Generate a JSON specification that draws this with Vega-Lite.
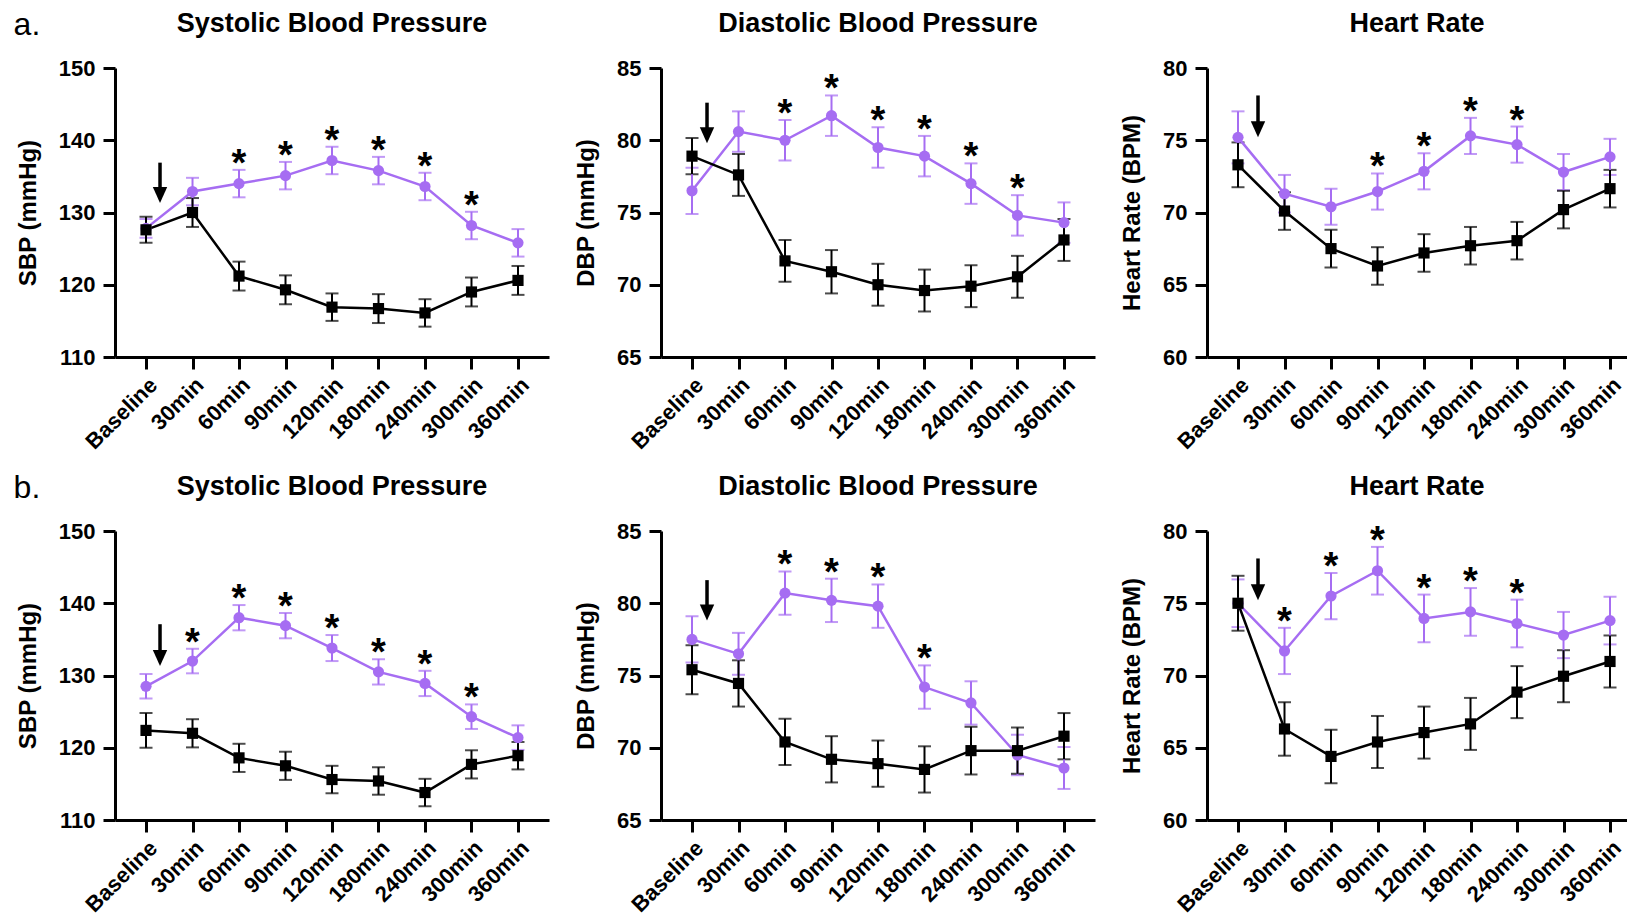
{
  "$schema": "https://vega.github.io/schema/vega-lite/v6.json",
  "background": "white",
  "padding": {"left": 13, "top": 9, "right": 0, "bottom": 0},
  "datasets": {
    "bp": [
      {"panel":"aSBP","time":"Baseline","group":"Treatment","mean":127.8,"lo":126.5,"hi":129.1,"sig":0},
      {"panel":"aSBP","time":"30min","group":"Treatment","mean":132.9,"lo":131.0,"hi":134.8,"sig":0},
      {"panel":"aSBP","time":"60min","group":"Treatment","mean":134.0,"lo":132.1,"hi":135.9,"sig":1},
      {"panel":"aSBP","time":"90min","group":"Treatment","mean":135.1,"lo":133.2,"hi":137.0,"sig":1},
      {"panel":"aSBP","time":"120min","group":"Treatment","mean":137.2,"lo":135.3,"hi":139.1,"sig":1},
      {"panel":"aSBP","time":"180min","group":"Treatment","mean":135.8,"lo":133.9,"hi":137.7,"sig":1},
      {"panel":"aSBP","time":"240min","group":"Treatment","mean":133.6,"lo":131.7,"hi":135.5,"sig":1},
      {"panel":"aSBP","time":"300min","group":"Treatment","mean":128.2,"lo":126.3,"hi":130.1,"sig":1},
      {"panel":"aSBP","time":"360min","group":"Treatment","mean":125.8,"lo":123.9,"hi":127.7,"sig":0},
      {"panel":"aSBP","time":"Baseline","group":"Control","mean":127.6,"lo":125.8,"hi":129.4,"sig":0},
      {"panel":"aSBP","time":"30min","group":"Control","mean":130.0,"lo":128.0,"hi":132.0,"sig":0},
      {"panel":"aSBP","time":"60min","group":"Control","mean":121.2,"lo":119.2,"hi":123.2,"sig":0},
      {"panel":"aSBP","time":"90min","group":"Control","mean":119.3,"lo":117.3,"hi":121.3,"sig":0},
      {"panel":"aSBP","time":"120min","group":"Control","mean":116.9,"lo":115.0,"hi":118.8,"sig":0},
      {"panel":"aSBP","time":"180min","group":"Control","mean":116.7,"lo":114.7,"hi":118.7,"sig":0},
      {"panel":"aSBP","time":"240min","group":"Control","mean":116.1,"lo":114.2,"hi":118.0,"sig":0},
      {"panel":"aSBP","time":"300min","group":"Control","mean":119.0,"lo":117.0,"hi":121.0,"sig":0},
      {"panel":"aSBP","time":"360min","group":"Control","mean":120.6,"lo":118.6,"hi":122.6,"sig":0},

      {"panel":"aDBP","time":"Baseline","group":"Treatment","mean":76.5,"lo":74.9,"hi":78.1,"sig":0},
      {"panel":"aDBP","time":"30min","group":"Treatment","mean":80.6,"lo":79.2,"hi":82.0,"sig":0},
      {"panel":"aDBP","time":"60min","group":"Treatment","mean":80.0,"lo":78.6,"hi":81.4,"sig":1},
      {"panel":"aDBP","time":"90min","group":"Treatment","mean":81.7,"lo":80.3,"hi":83.1,"sig":1},
      {"panel":"aDBP","time":"120min","group":"Treatment","mean":79.5,"lo":78.1,"hi":80.9,"sig":1},
      {"panel":"aDBP","time":"180min","group":"Treatment","mean":78.9,"lo":77.5,"hi":80.3,"sig":1},
      {"panel":"aDBP","time":"240min","group":"Treatment","mean":77.0,"lo":75.6,"hi":78.4,"sig":1},
      {"panel":"aDBP","time":"300min","group":"Treatment","mean":74.8,"lo":73.4,"hi":76.2,"sig":1},
      {"panel":"aDBP","time":"360min","group":"Treatment","mean":74.3,"lo":72.9,"hi":75.7,"sig":0},
      {"panel":"aDBP","time":"Baseline","group":"Control","mean":78.9,"lo":77.65,"hi":80.15,"sig":0},
      {"panel":"aDBP","time":"30min","group":"Control","mean":77.6,"lo":76.15,"hi":79.05,"sig":0},
      {"panel":"aDBP","time":"60min","group":"Control","mean":71.65,"lo":70.2,"hi":73.1,"sig":0},
      {"panel":"aDBP","time":"90min","group":"Control","mean":70.9,"lo":69.4,"hi":72.4,"sig":0},
      {"panel":"aDBP","time":"120min","group":"Control","mean":70.0,"lo":68.55,"hi":71.45,"sig":0},
      {"panel":"aDBP","time":"180min","group":"Control","mean":69.6,"lo":68.15,"hi":71.05,"sig":0},
      {"panel":"aDBP","time":"240min","group":"Control","mean":69.9,"lo":68.45,"hi":71.35,"sig":0},
      {"panel":"aDBP","time":"300min","group":"Control","mean":70.55,"lo":69.1,"hi":72.0,"sig":0},
      {"panel":"aDBP","time":"360min","group":"Control","mean":73.1,"lo":71.65,"hi":74.55,"sig":0},

      {"panel":"aHR","time":"Baseline","group":"Treatment","mean":75.2,"lo":73.4,"hi":77.0,"sig":0},
      {"panel":"aHR","time":"30min","group":"Treatment","mean":71.3,"lo":70.0,"hi":72.6,"sig":0},
      {"panel":"aHR","time":"60min","group":"Treatment","mean":70.4,"lo":69.15,"hi":71.65,"sig":0},
      {"panel":"aHR","time":"90min","group":"Treatment","mean":71.45,"lo":70.2,"hi":72.7,"sig":1},
      {"panel":"aHR","time":"120min","group":"Treatment","mean":72.85,"lo":71.6,"hi":74.1,"sig":1},
      {"panel":"aHR","time":"180min","group":"Treatment","mean":75.3,"lo":74.05,"hi":76.55,"sig":1},
      {"panel":"aHR","time":"240min","group":"Treatment","mean":74.7,"lo":73.45,"hi":75.95,"sig":1},
      {"panel":"aHR","time":"300min","group":"Treatment","mean":72.8,"lo":71.55,"hi":74.05,"sig":0},
      {"panel":"aHR","time":"360min","group":"Treatment","mean":73.85,"lo":72.6,"hi":75.1,"sig":0},
      {"panel":"aHR","time":"Baseline","group":"Control","mean":73.3,"lo":71.75,"hi":74.85,"sig":0},
      {"panel":"aHR","time":"30min","group":"Control","mean":70.1,"lo":68.8,"hi":71.4,"sig":0},
      {"panel":"aHR","time":"60min","group":"Control","mean":67.5,"lo":66.2,"hi":68.8,"sig":0},
      {"panel":"aHR","time":"90min","group":"Control","mean":66.3,"lo":65.0,"hi":67.6,"sig":0},
      {"panel":"aHR","time":"120min","group":"Control","mean":67.2,"lo":65.9,"hi":68.5,"sig":0},
      {"panel":"aHR","time":"180min","group":"Control","mean":67.7,"lo":66.4,"hi":69.0,"sig":0},
      {"panel":"aHR","time":"240min","group":"Control","mean":68.05,"lo":66.75,"hi":69.35,"sig":0},
      {"panel":"aHR","time":"300min","group":"Control","mean":70.2,"lo":68.9,"hi":71.5,"sig":0},
      {"panel":"aHR","time":"360min","group":"Control","mean":71.65,"lo":70.35,"hi":72.95,"sig":0},

      {"panel":"bSBP","time":"Baseline","group":"Treatment","mean":128.5,"lo":126.8,"hi":130.2,"sig":0},
      {"panel":"bSBP","time":"30min","group":"Treatment","mean":132.0,"lo":130.3,"hi":133.7,"sig":1},
      {"panel":"bSBP","time":"60min","group":"Treatment","mean":138.0,"lo":136.25,"hi":139.75,"sig":1},
      {"panel":"bSBP","time":"90min","group":"Treatment","mean":136.9,"lo":135.15,"hi":138.65,"sig":1},
      {"panel":"bSBP","time":"120min","group":"Treatment","mean":133.8,"lo":132.0,"hi":135.6,"sig":1},
      {"panel":"bSBP","time":"180min","group":"Treatment","mean":130.5,"lo":128.75,"hi":132.25,"sig":1},
      {"panel":"bSBP","time":"240min","group":"Treatment","mean":128.9,"lo":127.15,"hi":130.65,"sig":1},
      {"panel":"bSBP","time":"300min","group":"Treatment","mean":124.3,"lo":122.6,"hi":126.0,"sig":1},
      {"panel":"bSBP","time":"360min","group":"Treatment","mean":121.4,"lo":119.7,"hi":123.1,"sig":0},
      {"panel":"bSBP","time":"Baseline","group":"Control","mean":122.4,"lo":120.0,"hi":124.8,"sig":0},
      {"panel":"bSBP","time":"30min","group":"Control","mean":122.0,"lo":120.05,"hi":123.95,"sig":0},
      {"panel":"bSBP","time":"60min","group":"Control","mean":118.6,"lo":116.65,"hi":120.55,"sig":0},
      {"panel":"bSBP","time":"90min","group":"Control","mean":117.5,"lo":115.55,"hi":119.45,"sig":0},
      {"panel":"bSBP","time":"120min","group":"Control","mean":115.6,"lo":113.7,"hi":117.5,"sig":0},
      {"panel":"bSBP","time":"180min","group":"Control","mean":115.4,"lo":113.5,"hi":117.3,"sig":0},
      {"panel":"bSBP","time":"240min","group":"Control","mean":113.8,"lo":111.9,"hi":115.7,"sig":0},
      {"panel":"bSBP","time":"300min","group":"Control","mean":117.7,"lo":115.75,"hi":119.65,"sig":0},
      {"panel":"bSBP","time":"360min","group":"Control","mean":118.9,"lo":117.0,"hi":120.8,"sig":0},

      {"panel":"bDBP","time":"Baseline","group":"Treatment","mean":77.5,"lo":75.9,"hi":79.1,"sig":0},
      {"panel":"bDBP","time":"30min","group":"Treatment","mean":76.5,"lo":75.05,"hi":77.95,"sig":0},
      {"panel":"bDBP","time":"60min","group":"Treatment","mean":80.7,"lo":79.2,"hi":82.2,"sig":1},
      {"panel":"bDBP","time":"90min","group":"Treatment","mean":80.2,"lo":78.7,"hi":81.7,"sig":1},
      {"panel":"bDBP","time":"120min","group":"Treatment","mean":79.8,"lo":78.3,"hi":81.3,"sig":1},
      {"panel":"bDBP","time":"180min","group":"Treatment","mean":74.2,"lo":72.7,"hi":75.7,"sig":1},
      {"panel":"bDBP","time":"240min","group":"Treatment","mean":73.1,"lo":71.6,"hi":74.6,"sig":0},
      {"panel":"bDBP","time":"300min","group":"Treatment","mean":69.5,"lo":68.1,"hi":70.9,"sig":0},
      {"panel":"bDBP","time":"360min","group":"Treatment","mean":68.6,"lo":67.15,"hi":70.05,"sig":0},
      {"panel":"bDBP","time":"Baseline","group":"Control","mean":75.4,"lo":73.7,"hi":77.1,"sig":0},
      {"panel":"bDBP","time":"30min","group":"Control","mean":74.45,"lo":72.85,"hi":76.05,"sig":0},
      {"panel":"bDBP","time":"60min","group":"Control","mean":70.4,"lo":68.8,"hi":72.0,"sig":0},
      {"panel":"bDBP","time":"90min","group":"Control","mean":69.2,"lo":67.6,"hi":70.8,"sig":0},
      {"panel":"bDBP","time":"120min","group":"Control","mean":68.9,"lo":67.3,"hi":70.5,"sig":0},
      {"panel":"bDBP","time":"180min","group":"Control","mean":68.5,"lo":66.9,"hi":70.1,"sig":0},
      {"panel":"bDBP","time":"240min","group":"Control","mean":69.8,"lo":68.15,"hi":71.45,"sig":0},
      {"panel":"bDBP","time":"300min","group":"Control","mean":69.8,"lo":68.2,"hi":71.4,"sig":0},
      {"panel":"bDBP","time":"360min","group":"Control","mean":70.8,"lo":69.2,"hi":72.4,"sig":0},

      {"panel":"bHR","time":"Baseline","group":"Treatment","mean":75.0,"lo":73.35,"hi":76.65,"sig":0},
      {"panel":"bHR","time":"30min","group":"Treatment","mean":71.7,"lo":70.1,"hi":73.3,"sig":1},
      {"panel":"bHR","time":"60min","group":"Treatment","mean":75.5,"lo":73.9,"hi":77.1,"sig":1},
      {"panel":"bHR","time":"90min","group":"Treatment","mean":77.25,"lo":75.6,"hi":78.9,"sig":1},
      {"panel":"bHR","time":"120min","group":"Treatment","mean":73.95,"lo":72.3,"hi":75.6,"sig":1},
      {"panel":"bHR","time":"180min","group":"Treatment","mean":74.4,"lo":72.75,"hi":76.05,"sig":1},
      {"panel":"bHR","time":"240min","group":"Treatment","mean":73.6,"lo":71.95,"hi":75.25,"sig":1},
      {"panel":"bHR","time":"300min","group":"Treatment","mean":72.8,"lo":71.2,"hi":74.4,"sig":0},
      {"panel":"bHR","time":"360min","group":"Treatment","mean":73.8,"lo":72.15,"hi":75.45,"sig":0},
      {"panel":"bHR","time":"Baseline","group":"Control","mean":75.0,"lo":73.1,"hi":76.9,"sig":0},
      {"panel":"bHR","time":"30min","group":"Control","mean":66.3,"lo":64.45,"hi":68.15,"sig":0},
      {"panel":"bHR","time":"60min","group":"Control","mean":64.4,"lo":62.55,"hi":66.25,"sig":0},
      {"panel":"bHR","time":"90min","group":"Control","mean":65.4,"lo":63.6,"hi":67.2,"sig":0},
      {"panel":"bHR","time":"120min","group":"Control","mean":66.05,"lo":64.25,"hi":67.85,"sig":0},
      {"panel":"bHR","time":"180min","group":"Control","mean":66.65,"lo":64.85,"hi":68.45,"sig":0},
      {"panel":"bHR","time":"240min","group":"Control","mean":68.85,"lo":67.05,"hi":70.65,"sig":0},
      {"panel":"bHR","time":"300min","group":"Control","mean":69.95,"lo":68.15,"hi":71.75,"sig":0},
      {"panel":"bHR","time":"360min","group":"Control","mean":70.97,"lo":69.17,"hi":72.77,"sig":0}
    ],
    "arrows": [
      {"panel":"aSBP","time":"Baseline","top":136.9,"tip":131.3},
      {"panel":"aDBP","time":"Baseline","top":82.6,"tip":79.8},
      {"panel":"aHR","time":"Baseline","top":78.1,"tip":75.2},
      {"panel":"bSBP","time":"Baseline","top":137.1,"tip":131.3},
      {"panel":"bDBP","time":"Baseline","top":81.6,"tip":78.8},
      {"panel":"bHR","time":"Baseline","top":78.1,"tip":75.2}
    ]
  },
  "spacing": 19,
  "vconcat": [
    {
      "title": {"text": "a.", "orient": "left", "anchor": "end", "frame": "bounds", "angle": 0, "align": "left", "baseline": "top", "offset": -24, "fontSize": 32, "fontWeight": "normal", "color": "black"},
      "spacing": 25,
      "hconcat": [
        {
          "width": 434, "height": 289,
          "title": "Systolic Blood Pressure",
          "layer": [
            {"data": {"name": "bp"}, "transform": [{"filter": "datum.panel === 'aSBP'"}],
             "mark": {"type": "errorbar", "ticks": true, "size": 13, "thickness": 2},
             "encoding": {
               "x": {"field": "time", "type": "nominal", "title": null, "scale": {"type": "point", "domain": ["Baseline","30min","60min","90min","120min","180min","240min","300min","360min"], "padding": 0.667}},
               "y": {"field": "lo", "type": "quantitative", "title": "SBP (mmHg)", "scale": {"domain": [110, 150], "nice": false, "zero": false}},
               "y2": {"field": "hi"},
               "color": {"field": "group", "type": "nominal", "scale": {"domain": ["Treatment","Control"], "range": ["#A66DF2","#000000"]}, "legend": null}}},
            {"data": {"name": "bp"}, "transform": [{"filter": "datum.panel === 'aSBP'"}],
             "mark": {"type": "line", "strokeWidth": 2.5},
             "encoding": {
               "x": {"field": "time", "type": "nominal", "title": null, "scale": {"type": "point", "domain": ["Baseline","30min","60min","90min","120min","180min","240min","300min","360min"], "padding": 0.667}},
               "y": {"field": "mean", "type": "quantitative", "title": "SBP (mmHg)", "scale": {"domain": [110, 150], "nice": false, "zero": false}},
               "color": {"field": "group", "type": "nominal", "scale": {"domain": ["Treatment","Control"], "range": ["#A66DF2","#000000"]}, "legend": null}}},
            {"data": {"name": "bp"}, "transform": [{"filter": "datum.panel === 'aSBP'"}],
             "mark": {"type": "point", "filled": true, "opacity": 1, "size": 125},
             "encoding": {
               "x": {"field": "time", "type": "nominal", "title": null, "scale": {"type": "point", "domain": ["Baseline","30min","60min","90min","120min","180min","240min","300min","360min"], "padding": 0.667}},
               "y": {"field": "mean", "type": "quantitative", "title": "SBP (mmHg)", "scale": {"domain": [110, 150], "nice": false, "zero": false}},
               "color": {"field": "group", "type": "nominal", "scale": {"domain": ["Treatment","Control"], "range": ["#A66DF2","#000000"]}, "legend": null},
               "shape": {"field": "group", "type": "nominal", "scale": {"domain": ["Treatment","Control"], "range": ["circle","square"]}, "legend": null}}},
            {"data": {"name": "bp"}, "transform": [{"filter": "datum.panel === 'aSBP' && datum.sig === 1"}],
             "mark": {"type": "text", "text": "*", "fontSize": 38, "fontWeight": "bold", "baseline": "alphabetic", "dy": 6, "color": "black"},
             "encoding": {
               "x": {"field": "time", "type": "nominal", "title": null, "scale": {"type": "point", "domain": ["Baseline","30min","60min","90min","120min","180min","240min","300min","360min"], "padding": 0.667}},
               "y": {"field": "hi", "type": "quantitative", "title": "SBP (mmHg)", "scale": {"domain": [110, 150], "nice": false, "zero": false}}}},
            {"data": {"name": "arrows"}, "transform": [{"filter": "datum.panel === 'aSBP'"}],
             "mark": {"type": "rule", "strokeWidth": 3.5, "color": "black", "xOffset": 14, "y2Offset": -10},
             "encoding": {
               "x": {"field": "time", "type": "nominal", "title": null, "scale": {"type": "point", "domain": ["Baseline","30min","60min","90min","120min","180min","240min","300min","360min"], "padding": 0.667}},
               "y": {"field": "top", "type": "quantitative", "title": "SBP (mmHg)", "scale": {"domain": [110, 150], "nice": false, "zero": false}},
               "y2": {"field": "tip"}}},
            {"data": {"name": "arrows"}, "transform": [{"filter": "datum.panel === 'aSBP'"}],
             "mark": {"type": "point", "shape": "M-0.9,-1L0.9,-1L0,1Z", "filled": true, "opacity": 1, "size": 256, "color": "black", "xOffset": 14, "yOffset": -8},
             "encoding": {
               "x": {"field": "time", "type": "nominal", "title": null, "scale": {"type": "point", "domain": ["Baseline","30min","60min","90min","120min","180min","240min","300min","360min"], "padding": 0.667}},
               "y": {"field": "tip", "type": "quantitative", "title": "SBP (mmHg)", "scale": {"domain": [110, 150], "nice": false, "zero": false}}}}
          ]
        },
        {
          "width": 434, "height": 289,
          "title": "Diastolic Blood Pressure",
          "layer": [
            {"data": {"name": "bp"}, "transform": [{"filter": "datum.panel === 'aDBP'"}],
             "mark": {"type": "errorbar", "ticks": true, "size": 13, "thickness": 2},
             "encoding": {
               "x": {"field": "time", "type": "nominal", "title": null, "scale": {"type": "point", "domain": ["Baseline","30min","60min","90min","120min","180min","240min","300min","360min"], "padding": 0.667}},
               "y": {"field": "lo", "type": "quantitative", "title": "DBP (mmHg)", "scale": {"domain": [65, 85], "nice": false, "zero": false}},
               "y2": {"field": "hi"},
               "color": {"field": "group", "type": "nominal", "scale": {"domain": ["Treatment","Control"], "range": ["#A66DF2","#000000"]}, "legend": null}}},
            {"data": {"name": "bp"}, "transform": [{"filter": "datum.panel === 'aDBP'"}],
             "mark": {"type": "line", "strokeWidth": 2.5},
             "encoding": {
               "x": {"field": "time", "type": "nominal", "title": null, "scale": {"type": "point", "domain": ["Baseline","30min","60min","90min","120min","180min","240min","300min","360min"], "padding": 0.667}},
               "y": {"field": "mean", "type": "quantitative", "title": "DBP (mmHg)", "scale": {"domain": [65, 85], "nice": false, "zero": false}},
               "color": {"field": "group", "type": "nominal", "scale": {"domain": ["Treatment","Control"], "range": ["#A66DF2","#000000"]}, "legend": null}}},
            {"data": {"name": "bp"}, "transform": [{"filter": "datum.panel === 'aDBP'"}],
             "mark": {"type": "point", "filled": true, "opacity": 1, "size": 125},
             "encoding": {
               "x": {"field": "time", "type": "nominal", "title": null, "scale": {"type": "point", "domain": ["Baseline","30min","60min","90min","120min","180min","240min","300min","360min"], "padding": 0.667}},
               "y": {"field": "mean", "type": "quantitative", "title": "DBP (mmHg)", "scale": {"domain": [65, 85], "nice": false, "zero": false}},
               "color": {"field": "group", "type": "nominal", "scale": {"domain": ["Treatment","Control"], "range": ["#A66DF2","#000000"]}, "legend": null},
               "shape": {"field": "group", "type": "nominal", "scale": {"domain": ["Treatment","Control"], "range": ["circle","square"]}, "legend": null}}},
            {"data": {"name": "bp"}, "transform": [{"filter": "datum.panel === 'aDBP' && datum.sig === 1"}],
             "mark": {"type": "text", "text": "*", "fontSize": 38, "fontWeight": "bold", "baseline": "alphabetic", "dy": 6, "color": "black"},
             "encoding": {
               "x": {"field": "time", "type": "nominal", "title": null, "scale": {"type": "point", "domain": ["Baseline","30min","60min","90min","120min","180min","240min","300min","360min"], "padding": 0.667}},
               "y": {"field": "hi", "type": "quantitative", "title": "DBP (mmHg)", "scale": {"domain": [65, 85], "nice": false, "zero": false}}}},
            {"data": {"name": "arrows"}, "transform": [{"filter": "datum.panel === 'aDBP'"}],
             "mark": {"type": "rule", "strokeWidth": 3.5, "color": "black", "xOffset": 15, "y2Offset": -10},
             "encoding": {
               "x": {"field": "time", "type": "nominal", "title": null, "scale": {"type": "point", "domain": ["Baseline","30min","60min","90min","120min","180min","240min","300min","360min"], "padding": 0.667}},
               "y": {"field": "top", "type": "quantitative", "title": "DBP (mmHg)", "scale": {"domain": [65, 85], "nice": false, "zero": false}},
               "y2": {"field": "tip"}}},
            {"data": {"name": "arrows"}, "transform": [{"filter": "datum.panel === 'aDBP'"}],
             "mark": {"type": "point", "shape": "M-0.9,-1L0.9,-1L0,1Z", "filled": true, "opacity": 1, "size": 256, "color": "black", "xOffset": 15, "yOffset": -8},
             "encoding": {
               "x": {"field": "time", "type": "nominal", "title": null, "scale": {"type": "point", "domain": ["Baseline","30min","60min","90min","120min","180min","240min","300min","360min"], "padding": 0.667}},
               "y": {"field": "tip", "type": "quantitative", "title": "DBP (mmHg)", "scale": {"domain": [65, 85], "nice": false, "zero": false}}}}
          ]
        },
        {
          "width": 420, "height": 289,
          "title": "Heart Rate",
          "layer": [
            {"data": {"name": "bp"}, "transform": [{"filter": "datum.panel === 'aHR'"}],
             "mark": {"type": "errorbar", "ticks": true, "size": 13, "thickness": 2},
             "encoding": {
               "x": {"field": "time", "type": "nominal", "title": null, "scale": {"type": "point", "domain": ["Baseline","30min","60min","90min","120min","180min","240min","300min","360min"], "padding": 0.516, "align": 0.646}},
               "y": {"field": "lo", "type": "quantitative", "title": "Heart Rate (BPM)", "scale": {"domain": [60, 80], "nice": false, "zero": false}},
               "y2": {"field": "hi"},
               "color": {"field": "group", "type": "nominal", "scale": {"domain": ["Treatment","Control"], "range": ["#A66DF2","#000000"]}, "legend": null}}},
            {"data": {"name": "bp"}, "transform": [{"filter": "datum.panel === 'aHR'"}],
             "mark": {"type": "line", "strokeWidth": 2.5},
             "encoding": {
               "x": {"field": "time", "type": "nominal", "title": null, "scale": {"type": "point", "domain": ["Baseline","30min","60min","90min","120min","180min","240min","300min","360min"], "padding": 0.516, "align": 0.646}},
               "y": {"field": "mean", "type": "quantitative", "title": "Heart Rate (BPM)", "scale": {"domain": [60, 80], "nice": false, "zero": false}},
               "color": {"field": "group", "type": "nominal", "scale": {"domain": ["Treatment","Control"], "range": ["#A66DF2","#000000"]}, "legend": null}}},
            {"data": {"name": "bp"}, "transform": [{"filter": "datum.panel === 'aHR'"}],
             "mark": {"type": "point", "filled": true, "opacity": 1, "size": 125},
             "encoding": {
               "x": {"field": "time", "type": "nominal", "title": null, "scale": {"type": "point", "domain": ["Baseline","30min","60min","90min","120min","180min","240min","300min","360min"], "padding": 0.516, "align": 0.646}},
               "y": {"field": "mean", "type": "quantitative", "title": "Heart Rate (BPM)", "scale": {"domain": [60, 80], "nice": false, "zero": false}},
               "color": {"field": "group", "type": "nominal", "scale": {"domain": ["Treatment","Control"], "range": ["#A66DF2","#000000"]}, "legend": null},
               "shape": {"field": "group", "type": "nominal", "scale": {"domain": ["Treatment","Control"], "range": ["circle","square"]}, "legend": null}}},
            {"data": {"name": "bp"}, "transform": [{"filter": "datum.panel === 'aHR' && datum.sig === 1"}],
             "mark": {"type": "text", "text": "*", "fontSize": 38, "fontWeight": "bold", "baseline": "alphabetic", "dy": 6, "color": "black"},
             "encoding": {
               "x": {"field": "time", "type": "nominal", "title": null, "scale": {"type": "point", "domain": ["Baseline","30min","60min","90min","120min","180min","240min","300min","360min"], "padding": 0.516, "align": 0.646}},
               "y": {"field": "hi", "type": "quantitative", "title": "Heart Rate (BPM)", "scale": {"domain": [60, 80], "nice": false, "zero": false}}}},
            {"data": {"name": "arrows"}, "transform": [{"filter": "datum.panel === 'aHR'"}],
             "mark": {"type": "rule", "strokeWidth": 3.5, "color": "black", "xOffset": 20, "y2Offset": -10},
             "encoding": {
               "x": {"field": "time", "type": "nominal", "title": null, "scale": {"type": "point", "domain": ["Baseline","30min","60min","90min","120min","180min","240min","300min","360min"], "padding": 0.516, "align": 0.646}},
               "y": {"field": "top", "type": "quantitative", "title": "Heart Rate (BPM)", "scale": {"domain": [60, 80], "nice": false, "zero": false}},
               "y2": {"field": "tip"}}},
            {"data": {"name": "arrows"}, "transform": [{"filter": "datum.panel === 'aHR'"}],
             "mark": {"type": "point", "shape": "M-0.9,-1L0.9,-1L0,1Z", "filled": true, "opacity": 1, "size": 256, "color": "black", "xOffset": 20, "yOffset": -8},
             "encoding": {
               "x": {"field": "time", "type": "nominal", "title": null, "scale": {"type": "point", "domain": ["Baseline","30min","60min","90min","120min","180min","240min","300min","360min"], "padding": 0.516, "align": 0.646}},
               "y": {"field": "tip", "type": "quantitative", "title": "Heart Rate (BPM)", "scale": {"domain": [60, 80], "nice": false, "zero": false}}}}
          ]
        }
      ]
    },
    {
      "title": {"text": "b.", "orient": "left", "anchor": "end", "frame": "bounds", "angle": 0, "align": "left", "baseline": "top", "offset": -24, "fontSize": 32, "fontWeight": "normal", "color": "black"},
      "spacing": 25,
      "hconcat": [
        {
          "width": 434, "height": 289,
          "title": "Systolic Blood Pressure",
          "layer": [
            {"data": {"name": "bp"}, "transform": [{"filter": "datum.panel === 'bSBP'"}],
             "mark": {"type": "errorbar", "ticks": true, "size": 13, "thickness": 2},
             "encoding": {
               "x": {"field": "time", "type": "nominal", "title": null, "scale": {"type": "point", "domain": ["Baseline","30min","60min","90min","120min","180min","240min","300min","360min"], "padding": 0.667}},
               "y": {"field": "lo", "type": "quantitative", "title": "SBP (mmHg)", "scale": {"domain": [110, 150], "nice": false, "zero": false}},
               "y2": {"field": "hi"},
               "color": {"field": "group", "type": "nominal", "scale": {"domain": ["Treatment","Control"], "range": ["#A66DF2","#000000"]}, "legend": null}}},
            {"data": {"name": "bp"}, "transform": [{"filter": "datum.panel === 'bSBP'"}],
             "mark": {"type": "line", "strokeWidth": 2.5},
             "encoding": {
               "x": {"field": "time", "type": "nominal", "title": null, "scale": {"type": "point", "domain": ["Baseline","30min","60min","90min","120min","180min","240min","300min","360min"], "padding": 0.667}},
               "y": {"field": "mean", "type": "quantitative", "title": "SBP (mmHg)", "scale": {"domain": [110, 150], "nice": false, "zero": false}},
               "color": {"field": "group", "type": "nominal", "scale": {"domain": ["Treatment","Control"], "range": ["#A66DF2","#000000"]}, "legend": null}}},
            {"data": {"name": "bp"}, "transform": [{"filter": "datum.panel === 'bSBP'"}],
             "mark": {"type": "point", "filled": true, "opacity": 1, "size": 125},
             "encoding": {
               "x": {"field": "time", "type": "nominal", "title": null, "scale": {"type": "point", "domain": ["Baseline","30min","60min","90min","120min","180min","240min","300min","360min"], "padding": 0.667}},
               "y": {"field": "mean", "type": "quantitative", "title": "SBP (mmHg)", "scale": {"domain": [110, 150], "nice": false, "zero": false}},
               "color": {"field": "group", "type": "nominal", "scale": {"domain": ["Treatment","Control"], "range": ["#A66DF2","#000000"]}, "legend": null},
               "shape": {"field": "group", "type": "nominal", "scale": {"domain": ["Treatment","Control"], "range": ["circle","square"]}, "legend": null}}},
            {"data": {"name": "bp"}, "transform": [{"filter": "datum.panel === 'bSBP' && datum.sig === 1"}],
             "mark": {"type": "text", "text": "*", "fontSize": 38, "fontWeight": "bold", "baseline": "alphabetic", "dy": 6, "color": "black"},
             "encoding": {
               "x": {"field": "time", "type": "nominal", "title": null, "scale": {"type": "point", "domain": ["Baseline","30min","60min","90min","120min","180min","240min","300min","360min"], "padding": 0.667}},
               "y": {"field": "hi", "type": "quantitative", "title": "SBP (mmHg)", "scale": {"domain": [110, 150], "nice": false, "zero": false}}}},
            {"data": {"name": "arrows"}, "transform": [{"filter": "datum.panel === 'bSBP'"}],
             "mark": {"type": "rule", "strokeWidth": 3.5, "color": "black", "xOffset": 14, "y2Offset": -10},
             "encoding": {
               "x": {"field": "time", "type": "nominal", "title": null, "scale": {"type": "point", "domain": ["Baseline","30min","60min","90min","120min","180min","240min","300min","360min"], "padding": 0.667}},
               "y": {"field": "top", "type": "quantitative", "title": "SBP (mmHg)", "scale": {"domain": [110, 150], "nice": false, "zero": false}},
               "y2": {"field": "tip"}}},
            {"data": {"name": "arrows"}, "transform": [{"filter": "datum.panel === 'bSBP'"}],
             "mark": {"type": "point", "shape": "M-0.9,-1L0.9,-1L0,1Z", "filled": true, "opacity": 1, "size": 256, "color": "black", "xOffset": 14, "yOffset": -8},
             "encoding": {
               "x": {"field": "time", "type": "nominal", "title": null, "scale": {"type": "point", "domain": ["Baseline","30min","60min","90min","120min","180min","240min","300min","360min"], "padding": 0.667}},
               "y": {"field": "tip", "type": "quantitative", "title": "SBP (mmHg)", "scale": {"domain": [110, 150], "nice": false, "zero": false}}}}
          ]
        },
        {
          "width": 434, "height": 289,
          "title": "Diastolic Blood Pressure",
          "layer": [
            {"data": {"name": "bp"}, "transform": [{"filter": "datum.panel === 'bDBP'"}],
             "mark": {"type": "errorbar", "ticks": true, "size": 13, "thickness": 2},
             "encoding": {
               "x": {"field": "time", "type": "nominal", "title": null, "scale": {"type": "point", "domain": ["Baseline","30min","60min","90min","120min","180min","240min","300min","360min"], "padding": 0.667}},
               "y": {"field": "lo", "type": "quantitative", "title": "DBP (mmHg)", "scale": {"domain": [65, 85], "nice": false, "zero": false}},
               "y2": {"field": "hi"},
               "color": {"field": "group", "type": "nominal", "scale": {"domain": ["Treatment","Control"], "range": ["#A66DF2","#000000"]}, "legend": null}}},
            {"data": {"name": "bp"}, "transform": [{"filter": "datum.panel === 'bDBP'"}],
             "mark": {"type": "line", "strokeWidth": 2.5},
             "encoding": {
               "x": {"field": "time", "type": "nominal", "title": null, "scale": {"type": "point", "domain": ["Baseline","30min","60min","90min","120min","180min","240min","300min","360min"], "padding": 0.667}},
               "y": {"field": "mean", "type": "quantitative", "title": "DBP (mmHg)", "scale": {"domain": [65, 85], "nice": false, "zero": false}},
               "color": {"field": "group", "type": "nominal", "scale": {"domain": ["Treatment","Control"], "range": ["#A66DF2","#000000"]}, "legend": null}}},
            {"data": {"name": "bp"}, "transform": [{"filter": "datum.panel === 'bDBP'"}],
             "mark": {"type": "point", "filled": true, "opacity": 1, "size": 125},
             "encoding": {
               "x": {"field": "time", "type": "nominal", "title": null, "scale": {"type": "point", "domain": ["Baseline","30min","60min","90min","120min","180min","240min","300min","360min"], "padding": 0.667}},
               "y": {"field": "mean", "type": "quantitative", "title": "DBP (mmHg)", "scale": {"domain": [65, 85], "nice": false, "zero": false}},
               "color": {"field": "group", "type": "nominal", "scale": {"domain": ["Treatment","Control"], "range": ["#A66DF2","#000000"]}, "legend": null},
               "shape": {"field": "group", "type": "nominal", "scale": {"domain": ["Treatment","Control"], "range": ["circle","square"]}, "legend": null}}},
            {"data": {"name": "bp"}, "transform": [{"filter": "datum.panel === 'bDBP' && datum.sig === 1"}],
             "mark": {"type": "text", "text": "*", "fontSize": 38, "fontWeight": "bold", "baseline": "alphabetic", "dy": 6, "color": "black"},
             "encoding": {
               "x": {"field": "time", "type": "nominal", "title": null, "scale": {"type": "point", "domain": ["Baseline","30min","60min","90min","120min","180min","240min","300min","360min"], "padding": 0.667}},
               "y": {"field": "hi", "type": "quantitative", "title": "DBP (mmHg)", "scale": {"domain": [65, 85], "nice": false, "zero": false}}}},
            {"data": {"name": "arrows"}, "transform": [{"filter": "datum.panel === 'bDBP'"}],
             "mark": {"type": "rule", "strokeWidth": 3.5, "color": "black", "xOffset": 15, "y2Offset": -10},
             "encoding": {
               "x": {"field": "time", "type": "nominal", "title": null, "scale": {"type": "point", "domain": ["Baseline","30min","60min","90min","120min","180min","240min","300min","360min"], "padding": 0.667}},
               "y": {"field": "top", "type": "quantitative", "title": "DBP (mmHg)", "scale": {"domain": [65, 85], "nice": false, "zero": false}},
               "y2": {"field": "tip"}}},
            {"data": {"name": "arrows"}, "transform": [{"filter": "datum.panel === 'bDBP'"}],
             "mark": {"type": "point", "shape": "M-0.9,-1L0.9,-1L0,1Z", "filled": true, "opacity": 1, "size": 256, "color": "black", "xOffset": 15, "yOffset": -8},
             "encoding": {
               "x": {"field": "time", "type": "nominal", "title": null, "scale": {"type": "point", "domain": ["Baseline","30min","60min","90min","120min","180min","240min","300min","360min"], "padding": 0.667}},
               "y": {"field": "tip", "type": "quantitative", "title": "DBP (mmHg)", "scale": {"domain": [65, 85], "nice": false, "zero": false}}}}
          ]
        },
        {
          "width": 420, "height": 289,
          "title": "Heart Rate",
          "layer": [
            {"data": {"name": "bp"}, "transform": [{"filter": "datum.panel === 'bHR'"}],
             "mark": {"type": "errorbar", "ticks": true, "size": 13, "thickness": 2},
             "encoding": {
               "x": {"field": "time", "type": "nominal", "title": null, "scale": {"type": "point", "domain": ["Baseline","30min","60min","90min","120min","180min","240min","300min","360min"], "padding": 0.516, "align": 0.646}},
               "y": {"field": "lo", "type": "quantitative", "title": "Heart Rate (BPM)", "scale": {"domain": [60, 80], "nice": false, "zero": false}},
               "y2": {"field": "hi"},
               "color": {"field": "group", "type": "nominal", "scale": {"domain": ["Treatment","Control"], "range": ["#A66DF2","#000000"]}, "legend": null}}},
            {"data": {"name": "bp"}, "transform": [{"filter": "datum.panel === 'bHR'"}],
             "mark": {"type": "line", "strokeWidth": 2.5},
             "encoding": {
               "x": {"field": "time", "type": "nominal", "title": null, "scale": {"type": "point", "domain": ["Baseline","30min","60min","90min","120min","180min","240min","300min","360min"], "padding": 0.516, "align": 0.646}},
               "y": {"field": "mean", "type": "quantitative", "title": "Heart Rate (BPM)", "scale": {"domain": [60, 80], "nice": false, "zero": false}},
               "color": {"field": "group", "type": "nominal", "scale": {"domain": ["Treatment","Control"], "range": ["#A66DF2","#000000"]}, "legend": null}}},
            {"data": {"name": "bp"}, "transform": [{"filter": "datum.panel === 'bHR'"}],
             "mark": {"type": "point", "filled": true, "opacity": 1, "size": 125},
             "encoding": {
               "x": {"field": "time", "type": "nominal", "title": null, "scale": {"type": "point", "domain": ["Baseline","30min","60min","90min","120min","180min","240min","300min","360min"], "padding": 0.516, "align": 0.646}},
               "y": {"field": "mean", "type": "quantitative", "title": "Heart Rate (BPM)", "scale": {"domain": [60, 80], "nice": false, "zero": false}},
               "color": {"field": "group", "type": "nominal", "scale": {"domain": ["Treatment","Control"], "range": ["#A66DF2","#000000"]}, "legend": null},
               "shape": {"field": "group", "type": "nominal", "scale": {"domain": ["Treatment","Control"], "range": ["circle","square"]}, "legend": null}}},
            {"data": {"name": "bp"}, "transform": [{"filter": "datum.panel === 'bHR' && datum.sig === 1"}],
             "mark": {"type": "text", "text": "*", "fontSize": 38, "fontWeight": "bold", "baseline": "alphabetic", "dy": 6, "color": "black"},
             "encoding": {
               "x": {"field": "time", "type": "nominal", "title": null, "scale": {"type": "point", "domain": ["Baseline","30min","60min","90min","120min","180min","240min","300min","360min"], "padding": 0.516, "align": 0.646}},
               "y": {"field": "hi", "type": "quantitative", "title": "Heart Rate (BPM)", "scale": {"domain": [60, 80], "nice": false, "zero": false}}}},
            {"data": {"name": "arrows"}, "transform": [{"filter": "datum.panel === 'bHR'"}],
             "mark": {"type": "rule", "strokeWidth": 3.5, "color": "black", "xOffset": 20, "y2Offset": -10},
             "encoding": {
               "x": {"field": "time", "type": "nominal", "title": null, "scale": {"type": "point", "domain": ["Baseline","30min","60min","90min","120min","180min","240min","300min","360min"], "padding": 0.516, "align": 0.646}},
               "y": {"field": "top", "type": "quantitative", "title": "Heart Rate (BPM)", "scale": {"domain": [60, 80], "nice": false, "zero": false}},
               "y2": {"field": "tip"}}},
            {"data": {"name": "arrows"}, "transform": [{"filter": "datum.panel === 'bHR'"}],
             "mark": {"type": "point", "shape": "M-0.9,-1L0.9,-1L0,1Z", "filled": true, "opacity": 1, "size": 256, "color": "black", "xOffset": 20, "yOffset": -8},
             "encoding": {
               "x": {"field": "time", "type": "nominal", "title": null, "scale": {"type": "point", "domain": ["Baseline","30min","60min","90min","120min","180min","240min","300min","360min"], "padding": 0.516, "align": 0.646}},
               "y": {"field": "tip", "type": "quantitative", "title": "Heart Rate (BPM)", "scale": {"domain": [60, 80], "nice": false, "zero": false}}}}
          ]
        }
      ]
    }
  ],
  "config": {
    "font": "Liberation Sans",
    "view": {"stroke": null},
    "axis": {
      "grid": false,
      "domainColor": "black", "domainWidth": 3,
      "tickColor": "black", "tickWidth": 3, "tickSize": 12,
      "labelFont": "Liberation Sans", "labelFontSize": 22, "labelFontWeight": "bold", "labelColor": "black",
      "titleFont": "Liberation Sans", "titleFontSize": 24, "titleFontWeight": "bold", "titleColor": "black",
      "labelOverlap": false
    },
    "axisX": {"labelAngle": -45, "labelAlign": "right", "labelBaseline": "top", "labelPadding": 5},
    "axisY": {"labelPadding": 8, "titlePadding": 18, "tickCount": 5},
    "title": {"font": "Liberation Sans", "fontSize": 27, "fontWeight": "bold", "color": "black", "baseline": "alphabetic", "offset": 19}
  }
}
